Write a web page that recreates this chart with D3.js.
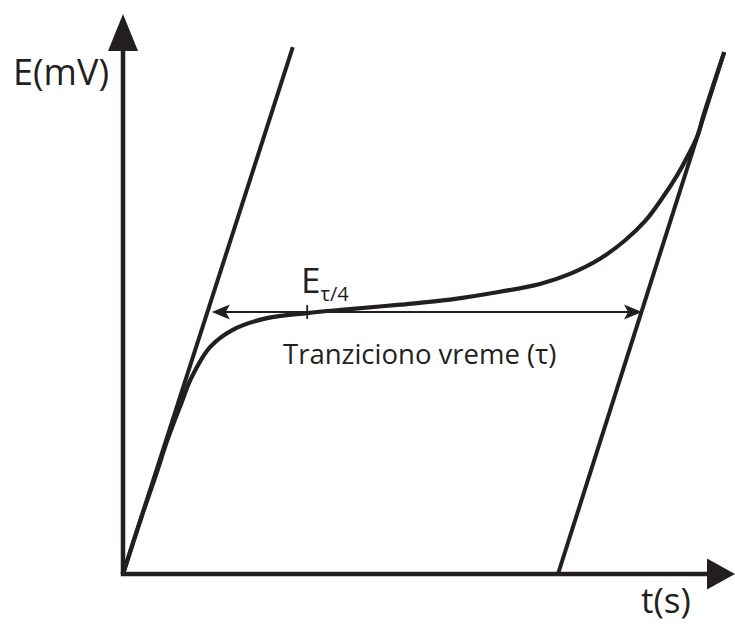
<!DOCTYPE html>
<html>
<head>
<meta charset="utf-8">
<script src="https://cdn.jsdelivr.net/npm/d3@7"></script>
<style>
  html, body { margin: 0; padding: 0; background: #fff; }
  svg { display: block; }
  text { font-family: "Open Sans", "Noto Sans", sans-serif; fill: #231f20; }
</style>
</head>
<body>
<div id="chart"></div>
<script>
// Chronopotentiogram: potential vs time with the two tangents and the transition time
const curveT = [0, 2.9, 5.5, 7.4, 9.9, 11.2, 14.5, 18.3, 24.0, 30.7, 37.8, 46.2, 54.5, 62.8, 69.5, 74.5, 79.5, 83.7, 87.0, 89.8, 92.3, 94.3, 95.8, 96.8, 100.2];
const curveE = [0, 9.6, 17.7, 23.9, 31.0, 34.6, 40.5, 43.6, 45.7, 46.6, 47.3, 48.1, 49.0, 50.4, 51.8, 53.6, 56.3, 59.6, 63.0, 67.0, 71.1, 75.0, 78.4, 82.1, 93.2];

const leftTangentT = [0, 28.3];
const leftTangentE = [0, 94.1];
const rightTangentT = [72.5, 100.2];
const rightTangentE = [0, 93.2];

const tauArrowT = [14.8, 86.5];
const tauArrowE = 46.8;
const quarterT = 30.7;

const axisTMax = 102;
const axisEMax = 100;

const labels = {
  yAxis: "E(mV)",
  xAxis: "t(s)",
  tau: "Tranziciono vreme (τ)",
  quarter: "E",
  quarterSub: "τ/4"
};

const W = 735, H = 634;
const ink = "#231f20";

const svg = d3.select("#chart").append("svg")
  .attr("width", W).attr("height", H);

const x = d3.scaleLinear().domain([0, 100]).range([123, 723]);
const y = d3.scaleLinear().domain([0, 100]).range([574, 14]);

// axes with arrowheads
const axes = svg.append("g");
axes.append("line")
  .attr("x1", x(0)).attr("y1", y(0))
  .attr("x2", x(0)).attr("y2", y(axisEMax) + 30)
  .attr("stroke", ink).attr("stroke-width", 4.5);
axes.append("path")
  .attr("d", `M${x(0)},${y(axisEMax)} L${x(0) + 15},${y(axisEMax) + 37} L${x(0) - 15},${y(axisEMax) + 37} Z`)
  .attr("fill", ink);

axes.append("line")
  .attr("x1", x(0) - 2.25).attr("y1", y(0))
  .attr("x2", x(axisTMax) - 25).attr("y2", y(0))
  .attr("stroke", ink).attr("stroke-width", 4.5);
axes.append("path")
  .attr("d", `M${x(axisTMax)},${y(0)} L${x(axisTMax) - 28},${y(0) + 15.5} L${x(axisTMax) - 28},${y(0) - 15.5} Z`)
  .attr("fill", ink);

// tangent lines
const tangents = [
  d3.zip(leftTangentT, leftTangentE),
  d3.zip(rightTangentT, rightTangentE)
];
const lineGen = d3.line().x(d => x(d[0])).y(d => y(d[1]));
svg.append("g").selectAll("path").data(tangents).join("path")
  .attr("d", lineGen)
  .attr("fill", "none")
  .attr("stroke", ink)
  .attr("stroke-width", 4)
  .attr("stroke-linecap", "butt");

// potential curve
const curveLine = d3.line()
  .x(d => x(d[0])).y(d => y(d[1]))
  .curve(d3.curveCatmullRom.alpha(0.5));
svg.append("path")
  .datum(d3.zip(curveT, curveE))
  .attr("d", curveLine)
  .attr("fill", "none")
  .attr("stroke", ink)
  .attr("stroke-width", 4.2)
  .attr("stroke-linejoin", "round");

// double-headed arrow for the transition time
const ay = y(tauArrowE);
const ax1 = x(tauArrowT[0]), ax2 = x(tauArrowT[1]);
const headL = 18, headW = 7.5;
svg.append("line")
  .attr("x1", ax1 + 8).attr("y1", ay)
  .attr("x2", ax2 - 8).attr("y2", ay)
  .attr("stroke", ink).attr("stroke-width", 2);
svg.append("path")
  .attr("d", `M${ax1},${ay} L${ax1 + headL},${ay - headW} L${ax1 + headL - 4},${ay} L${ax1 + headL},${ay + headW} Z`)
  .attr("fill", ink);
svg.append("path")
  .attr("d", `M${ax2},${ay} L${ax2 - headL},${ay - headW} L${ax2 - headL + 4},${ay} L${ax2 - headL},${ay + headW} Z`)
  .attr("fill", ink);

// quarter-time tick
svg.append("line")
  .attr("x1", x(quarterT)).attr("y1", ay - 7)
  .attr("x2", x(quarterT)).attr("y2", ay + 7)
  .attr("stroke", ink).attr("stroke-width", 1.8);

// labels
svg.append("text")
  .attr("x", 13).attr("y", 85)
  .attr("font-size", 36)
  .text(labels.yAxis);

svg.append("text")
  .attr("x", 641).attr("y", 613)
  .attr("font-size", 35)
  .text(labels.xAxis);

svg.append("text")
  .attr("x", 283).attr("y", 364)
  .attr("font-size", 27.5)
  .text(labels.tau);

const qt = svg.append("text")
  .attr("x", 301).attr("y", 293)
  .attr("font-size", 35);
qt.append("tspan").text(labels.quarter);
qt.append("tspan")
  .attr("font-size", 20)
  .attr("dy", 8)
  .text(labels.quarterSub);
</script>
</body>
</html>
